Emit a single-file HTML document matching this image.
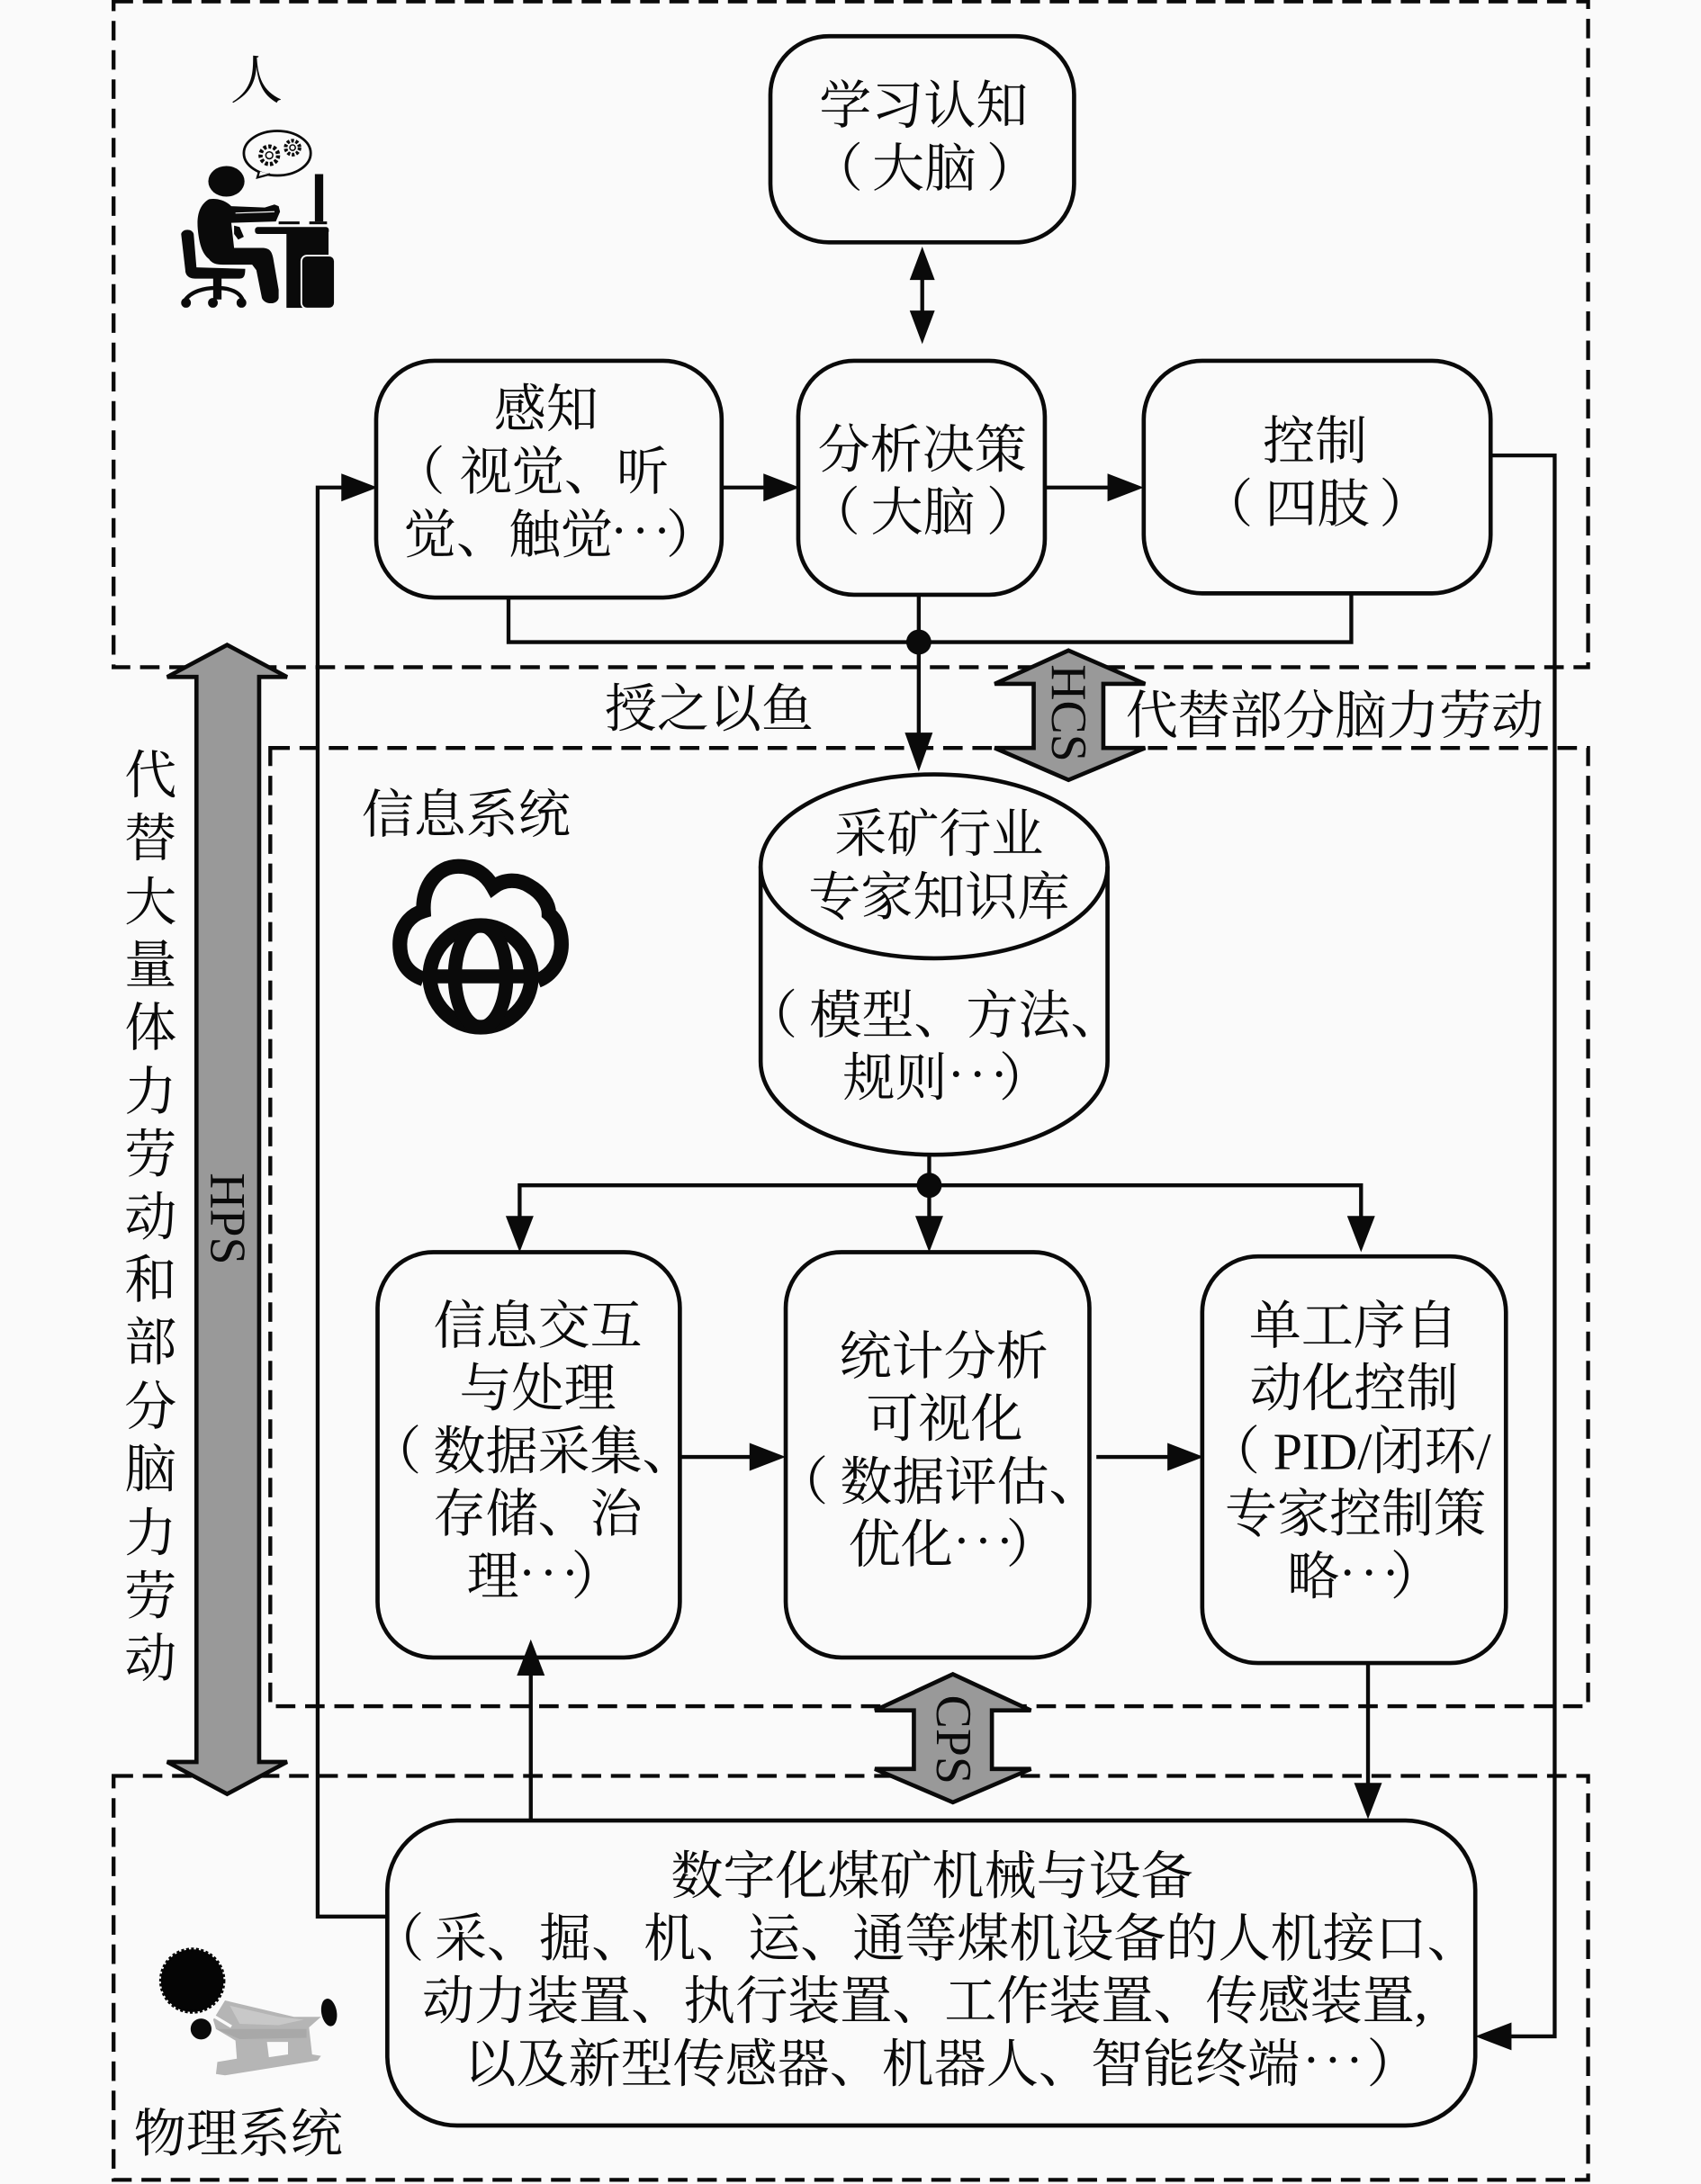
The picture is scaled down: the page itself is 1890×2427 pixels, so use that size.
<!DOCTYPE html>
<html lang="zh"><head><meta charset="utf-8">
<style>
html,body{margin:0;padding:0;background:#fafafa;width:1890px;height:2427px;overflow:hidden}
svg{display:block}
text{font-family:"Liberation Serif","Noto Serif CJK SC",serif;font-size:37.5px;fill:#0a0a0a;text-anchor:middle;dominant-baseline:central}
text.s{text-anchor:start}
text.t{text-anchor:start;letter-spacing:3px}
.l{fill:none;stroke:#0a0a0a;stroke-width:2.8}
.b{fill:none;stroke:#0a0a0a;stroke-width:3}
.d{fill:none;stroke:#0a0a0a;stroke-width:2.8;stroke-dasharray:14 7}
.a{fill:#0a0a0a}
.g{fill:#999;stroke:#0a0a0a;stroke-width:3}
.k{fill:#0a0a0a}
</style></head><body>
<svg width="1890" height="2427" viewBox="0 0 1221 1568" xmlns="http://www.w3.org/2000/svg">
<rect width="1221" height="1568" fill="#fafafa"/>
<!-- dashed regions -->
<rect class="d" x="81.500" y="1" width="1058.500" height="478"/>
<rect class="d" x="194" y="537" width="946" height="688"/>
<rect class="d" x="81.500" y="1275" width="1058.500" height="290"/>

<!-- connectors -->
<path class="l" d="M662 190V235"/>
<polygon class="a" points="662,177 653,201 671,201"/>
<polygon class="a" points="662,247 653,223 671,223"/>
<path class="l" d="M518 350H550"/><polygon class="a" points="574,350 548,340 548,360"/>
<path class="l" d="M750 350H798"/><polygon class="a" points="821,350 795,340 795,360"/>
<path class="l" d="M365 429V461H970V426"/>
<path class="l" d="M659.500 427V530"/><circle class="a" cx="659.500" cy="461" r="9"/>
<polygon class="a" points="659.500,554 649.500,526 669.500,526"/>
<path class="l" d="M278 1376H228V350H248"/><polygon class="a" points="271,350 245,340 245,360"/>
<path class="l" d="M1070 327H1116V1462H1080"/><polygon class="a" points="1059,1462 1085,1452 1085,1472"/>
<path class="l" d="M667 829V880M373 875V851H977V875"/><circle class="a" cx="667" cy="851" r="9"/>
<polygon class="a" points="373,899 363,873 383,873"/>
<polygon class="a" points="667,899 657,873 677,873"/>
<polygon class="a" points="977,899 967,873 987,873"/>
<path class="l" d="M488 1046H542"/><polygon class="a" points="564,1046 538,1036 538,1056"/>
<path class="l" d="M787 1046H842"/><polygon class="a" points="864,1046 838,1036 838,1056"/>
<path class="l" d="M982 1194V1285"/><polygon class="a" points="982,1306 972,1280 992,1280"/>
<path class="l" d="M381 1306V1198"/><polygon class="a" points="381,1177 371,1203 391,1203"/>

<!-- gray double arrows -->
<polygon class="g" points="163,463 206,486 186,486 186,1265 206,1265 163,1288 120,1265 141,1265 141,486 120,486"/>
<polygon class="g" points="767,467 822,491 792,491 792,537 822,537 767,560 714,537 742,537 742,491 714,491"/>
<polygon class="g" points="684,1202 740,1228 712,1228 712,1270 740,1270 684,1294 628,1270 656,1270 656,1228 628,1228"/>
<text style="font-size:36px" transform="translate(163 875) rotate(90)">HPS</text>
<text style="font-size:36px" transform="translate(767 512) rotate(90)">HCS</text>
<text style="font-size:36px" transform="translate(684 1249) rotate(90)">CPS</text>

<!-- boxes -->
<rect class="b" x="553" y="26" width="218" height="148" rx="42" fill="#fafafa"/>
<rect class="b" x="270" y="259" width="248" height="170" rx="42"/>
<rect class="b" x="573" y="259" width="177" height="168" rx="40"/>
<rect class="b" x="821" y="259" width="249" height="167" rx="42"/>
<path class="b" d="M546 622V762C546 799 601 829 670.500 829S795 799 795 762V622"/>
<ellipse class="b" cx="670.500" cy="622" rx="124.500" ry="66"/>
<rect class="b" x="271" y="899" width="217" height="291" rx="40"/>
<rect class="b" x="564" y="899" width="218" height="291" rx="40"/>
<rect class="b" x="863" y="902" width="218" height="292" rx="40"/>
<rect class="b" x="278" y="1307" width="781" height="219" rx="50"/>

<!-- text -->
<text x="184" y="58">人</text>
<text x="663" y="76">学习认知</text>
<text class="s" x="582" y="121">（</text><text class="s" x="626" y="121">大脑</text><text class="s" x="708" y="121">）</text>
<text x="392" y="294">感知</text>
<text class="s" x="282" y="339">（</text><text class="s" x="330" y="339">视觉、听</text>
<text class="s" x="290" y="384">觉、触觉</text><text class="t" x="438" y="381">···</text><text class="s" x="478" y="384">）</text>
<text x="662" y="323">分析决策</text>
<text class="s" x="580" y="368">（</text><text class="s" x="625" y="368">大脑</text><text class="s" x="708" y="368">）</text>
<text x="944" y="317">控制</text>
<text class="s" x="862" y="362">（</text><text class="s" x="908" y="362">四肢</text><text class="s" x="990" y="362">）</text>
<text x="509" y="509">授之以鱼</text>
<text x="958" y="514">代替部分脑力劳动</text>
<text x="334.500" y="585">信息系统</text>
<text x="674" y="599">采矿行业</text>
<text x="674" y="644">专家知识库</text>
<text class="s" x="535" y="729">（</text><text class="s" x="581" y="729">模型、方法、</text>
<text class="s" x="605" y="774">规则</text><text class="t" x="680" y="771">···</text><text class="s" x="717" y="774">）</text>
<text x="386" y="952">信息交互</text>
<text x="386" y="997">与处理</text>
<text class="s" x="265" y="1042">（</text><text class="s" x="311" y="1042">数据采集、</text>
<text x="386" y="1087">存储、治</text>
<text class="s" x="335" y="1132">理</text><text class="t" x="372" y="1129">···</text><text class="s" x="410" y="1132">）</text>
<text x="677.500" y="974">统计分析</text>
<text x="678" y="1019">可视化</text>
<text class="s" x="557" y="1064">（</text><text class="s" x="603" y="1064">数据评估、</text>
<text class="s" x="609" y="1109">优化</text><text class="t" x="684" y="1106">···</text><text class="s" x="722" y="1109">）</text>
<text x="971.500" y="952">单工序自</text>
<text x="972" y="997">动化控制</text>
<text class="s" x="867" y="1042">（</text><text class="s" x="914" y="1042">PID/闭环/</text>
<text x="973" y="1087">专家控制策</text>
<text class="s" x="924" y="1132">略</text><text class="t" x="961" y="1129">···</text><text class="s" x="998" y="1132">）</text>
<text x="669" y="1347">数字化煤矿机械与设备</text>
<text class="s" x="267" y="1392">（</text><text class="s" x="312" y="1392">采、掘、机、运、通等煤机设备的人机接口、</text>
<text class="s" x="303" y="1437">动力装置、执行装置、工作装置、传感装置,</text>
<text class="s" x="333" y="1482">以及新型传感器、机器人、智能终端</text><text class="t" x="935" y="1479">···</text><text class="s" x="981" y="1482">）</text>
<text x="171" y="1532">物理系统</text>

<!-- vertical text -->
<g>
<text x="108" y="557">代</text><text x="108" y="602">替</text><text x="108" y="648">大</text>
<text x="108" y="693">量</text><text x="108" y="738">体</text><text x="108" y="784">力</text>
<text x="108" y="829">劳</text><text x="108" y="874">动</text><text x="108" y="919">和</text>
<text x="108" y="964">部</text><text x="108" y="1010">分</text><text x="108" y="1055">脑</text>
<text x="108" y="1101">力</text><text x="108" y="1146">劳</text><text x="108" y="1191">动</text>
</g>

<!-- person icon -->
<g>
<ellipse cx="199" cy="110" rx="24" ry="16" fill="none" stroke="#0a0a0a" stroke-width="1.800"/>
<path d="M186 123L184.700 127.500L194 125" fill="#fafafa" stroke="#0a0a0a" stroke-width="1.500"/>
<circle cx="193.300" cy="111.500" r="6.300" fill="none" stroke="#0a0a0a" stroke-width="3" stroke-dasharray="2.200 1.400"/>
<circle cx="193.300" cy="111.500" r="2.500" fill="none" stroke="#0a0a0a" stroke-width="1"/>
<circle cx="210" cy="106" r="5" fill="none" stroke="#0a0a0a" stroke-width="2.600" stroke-dasharray="2 1.200"/>
<circle cx="210" cy="106" r="2" fill="none" stroke="#0a0a0a" stroke-width="1"/>
<ellipse class="k" cx="162.500" cy="130.200" rx="13" ry="11"/>
<path class="k" d="M150 143C143 147 141 155 142 165C143 175 145 182 150 186C152 189 155 190 160 190L181 190L184 194L188 214C190 219 199 219 200 214L200 208L196 185C195 180 193 178 188 178L168 178L166 160L198 159L201 152L200 148L197 146.800L190 149L166 148C162 144 156 142 150 143Z"/>
<path d="M169 153L197 152" stroke="#fafafa" stroke-width="0.800" fill="none"/>
<path class="k" d="M168 162L172 163L175 170L171 172L168 168Z"/>
<rect class="k" x="226" y="125" width="6" height="34"/>
<rect class="k" x="222" y="159" width="12.700" height="2"/>
<rect class="k" x="200" y="159" width="15" height="2"/>
<rect class="k" x="183" y="163" width="53" height="5" rx="2"/>
<rect class="k" x="205.600" y="167" width="30.200" height="54"/>
<rect x="216.300" y="183.500" width="24" height="38" rx="4" fill="#0a0a0a" stroke="#fafafa" stroke-width="1.200"/>
<path class="k" d="M130 168C131 164 138 164 139 168L141 192L176 193C176 198 175 200 172 200L140 200C135 200 133 197 133 194Z"/>
<rect class="k" x="153" y="199" width="6" height="16"/>
<path d="M132.500 216C137 209 147 206.700 155 206.700C164 206.700 172 209 174.500 216" fill="none" stroke="#0a0a0a" stroke-width="2.800"/>
<circle class="k" cx="133.500" cy="217.400" r="3.500"/><circle class="k" cx="152.800" cy="217.400" r="3.500"/><circle class="k" cx="173.300" cy="217.400" r="3.500"/>
</g>

<!-- cloud icon -->
<g fill="none" stroke="#0a0a0a">
<path stroke-width="10.500" d="M304 703C290 698 287 688 287 678C287 666 294 657 304 654C303 636 314 622 329 622C341 622 349 628 354 637C362 631 372 631 380 636C389 641 394 649 394 656C401 662 403 670 403 678C403 690 396 700 386 704"/>
<circle cx="345" cy="701" r="36.500" stroke-width="10.500" fill="#fafafa"/>
<ellipse cx="345" cy="701" rx="18.500" ry="36.500" stroke-width="10"/>
<path d="M309 701H381" stroke-width="10"/>
</g>

<!-- shearer icon -->
<g>
<path d="M161.500 1436.200L211 1448L230.400 1448L221.800 1455.600L224 1475L230.400 1476L228 1479.300L161.500 1490L155 1489L156 1480.400L170 1478L169 1465L155 1456.700L153 1450Z" fill="#b5b5b5"/>
<path d="M165 1440L200 1448L218 1450L200 1454L172 1453Z" fill="#c8c8c8"/>
<path d="M155 1456.700L220 1456.700L220 1463L172 1464Z" fill="#a8a8a8"/>
<path d="M191.600 1466L206.700 1466L206.700 1475L193 1477Z" fill="#fafafa"/>
<path d="M151 1446L166 1455" stroke="#fafafa" stroke-width="2.200" fill="none"/>
<circle cx="138" cy="1422" r="22.500" fill="#050505" stroke="#050505" stroke-width="2.500" stroke-dasharray="2 1.500"/>
<ellipse cx="144.300" cy="1456.700" rx="7.500" ry="7.500" fill="#0a0a0a"/>
<ellipse cx="236.200" cy="1444.800" rx="5.500" ry="10" fill="#0a0a0a" transform="rotate(-10 236.200 1444.800)"/>
</g>
</svg>
</body></html>
